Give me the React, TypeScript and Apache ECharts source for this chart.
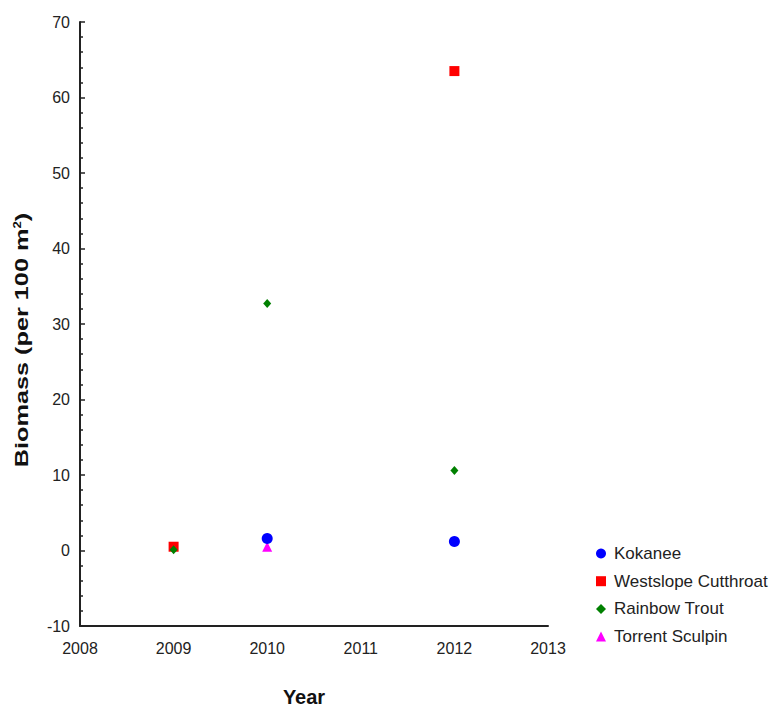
import React, { useEffect, useRef } from "react";
import * as echarts from "echarts";

// Biomass by survey year for each species
const kokanee: [number, number][] = [
  [2010, 1.6],
  [2012, 1.2],
];
const westslopeCutthroat: [number, number][] = [
  [2009, 0.5],
  [2012, 63.5],
];
const rainbowTrout: [number, number][] = [
  [2009, 0.1],
  [2010, 32.7],
  [2012, 10.6],
];
const torrentSculpin: [number, number][] = [[2010, 0.5]];

const seriesNames = ["Kokanee", "Westslope Cutthroat", "Rainbow Trout", "Torrent Sculpin"];
const seriesColors = ["#0000ff", "#ff0000", "#008000", "#ff00ff"];

const FONT = "'Liberation Sans', Arial, sans-serif";

export default function App() {
  const ref = useRef<HTMLDivElement>(null);

  useEffect(() => {
    if (!ref.current) return;
    const chart = echarts.init(ref.current, null, { renderer: "svg" });
    const axisLine = { show: true, onZero: false, lineStyle: { color: "#222", width: 2 } };
    const scatter = (i: number, data: [number, number][], symbol: string, size: number | number[], z: number) => ({
      name: seriesNames[i],
      type: "scatter",
      data,
      symbol,
      symbolSize: size,
      itemStyle: { color: seriesColors[i], opacity: 1 },
      z,
    });
    chart.setOption({
      animation: false,
      backgroundColor: "#fff",
      textStyle: { fontFamily: FONT },
      grid: { left: 80, top: 22, right: 224, bottom: 83 },
      xAxis: {
        type: "value",
        min: 2008,
        max: 2013,
        interval: 1,
        axisLine,
        axisTick: { show: false },
        splitLine: { show: false },
        axisLabel: { color: "#222", fontSize: 16, fontFamily: FONT, margin: 14, formatter: (v: number) => String(v) },
      },
      yAxis: {
        type: "value",
        min: -10,
        max: 70,
        interval: 10,
        axisLine,
        axisTick: { show: true, inside: true, length: 5, lineStyle: { color: "#222", width: 1.5 } },
        minorTick: { show: true, splitNumber: 5, length: 3, lineStyle: { color: "#222", width: 1.5 } },
        splitLine: { show: false },
        axisLabel: { color: "#222", fontSize: 16, fontFamily: FONT, margin: 10 },
      },
      legend: {
        orient: "vertical",
        left: 591,
        top: 540,
        itemWidth: 10,
        itemHeight: 10,
        itemGap: 10.7,
        data: [
          { name: seriesNames[0], icon: "circle" },
          { name: seriesNames[1], icon: "rect" },
          { name: seriesNames[2], icon: "diamond" },
          { name: seriesNames[3], icon: "triangle" },
        ],
        textStyle: { color: "#222", fontSize: 17, fontFamily: FONT, padding: [0, 0, 0, 3] },
      },
      graphic: [
        {
          type: "text",
          x: 22,
          y: 340,
          rotation: Math.PI / 2,
          scaleX: 1.33,
          style: {
            text: "{t|Biomass (per 100 m}{s|2}{t|)}",
            align: "center",
            verticalAlign: "middle",
            rich: {
              t: { fontSize: 19, fontWeight: "bold", fontFamily: FONT, fill: "#111" },
              s: { fontSize: 10, fontWeight: "bold", fontFamily: FONT, fill: "#111", verticalAlign: "top", padding: [0, 0, 10, 0] },
            },
          },
        },
        {
          type: "text",
          x: 304,
          y: 697,
          style: {
            text: "Year",
            align: "center",
            verticalAlign: "middle",
            fontSize: 20,
            fontWeight: "bold",
            fontFamily: FONT,
            fill: "#111",
          },
        },
      ],
      series: [
        scatter(0, kokanee, "circle", 11, 3),
        scatter(1, westslopeCutthroat, "rect", 10, 2),
        scatter(2, rainbowTrout, "diamond", [8, 9], 4),
        scatter(3, torrentSculpin, "triangle", 10, 2),
      ],
    });
    return () => chart.dispose();
  }, []);

  return <div ref={ref} style={{ width: 772, height: 709, position: "absolute", left: 0, top: 0 }} />;
}
